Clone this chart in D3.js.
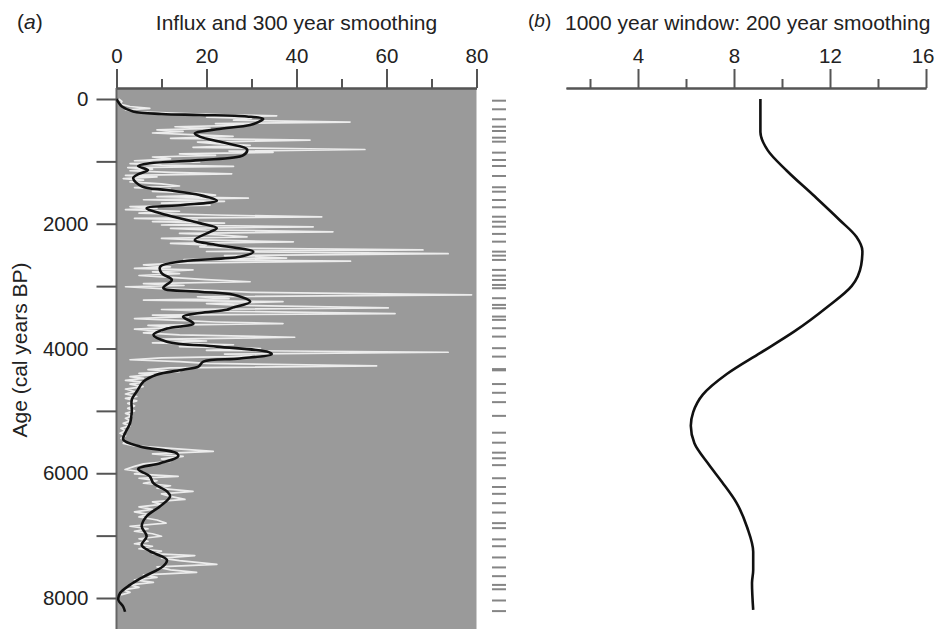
<!DOCTYPE html>
<html>
<head>
<meta charset="utf-8">
<script src="https://cdn.jsdelivr.net/npm/d3@7"></script>
<style>
  html, body { margin: 0; padding: 0; background: #fff; }
  svg { display: block; font-family: "Liberation Sans", Arial, sans-serif; }
</style>
</head>
<body>
<svg id="chart" width="936" height="629"></svg>
<script>
// ---- Data -------------------------------------------------------------
// Raw influx profile: [age (cal years BP), influx]
const influxRaw = [
  [0,0.5],[40,1.2],[80,0.8],[120,3],[150,7.4],[175,2],[200,4],[230,14],[255,24],[270,35.6],
  [290,20],[310,30],[340,26],[370,51.9],[395,22],[420,30],[445,13],[470,20.8],[495,9],[520,14.8],
  [545,8],[575,18],[600,25.9],[630,12],[660,43],[690,18],[715,22],[745,29.7],[775,17],[810,55.2],
  [835,25],[855,34.8],[880,14],[905,22],[930,8],[960,12],[990,4],[1010,18.5],[1035,3],[1060,10],
  [1080,26],[1100,2.5],[1125,8],[1150,3],[1175,12],[1200,25.6],[1225,2],[1250,9],[1275,1.5],[1300,6],
  [1330,3],[1360,10],[1395,14],[1420,4],[1450,12],[1480,8],[1510,18],[1540,22],[1565,9],[1590,29.3],
  [1615,6],[1640,24],[1670,10],[1700,20.8],[1725,3],[1750,9],[1775,2],[1800,14],[1830,5],[1860,22],
  [1890,45.6],[1915,4],[1940,18],[1965,8],[1990,24],[2020,10],[2050,43.7],[2075,12],[2100,20],[2130,48.1],
  [2155,14],[2180,23],[2210,29],[2235,10],[2260,18],[2290,39.3],[2315,12],[2340,20],[2370,18.5],[2395,30],
  [2420,68.1],[2445,20],[2480,73.7],[2510,24],[2550,37.8],[2575,15],[2600,52],[2630,13.6],[2660,6],[2690,12],
  [2715,4],[2740,17],[2770,8],[2800,14],[2830,5],[2860,12],[2895,20],[2930,29.7],[2960,6],[2990,15],
  [3010,2],[3040,10],[3070,22],[3100,30],[3140,78.9],[3170,18],[3200,25],[3225,6],[3250,37],[3280,20],
  [3310,28],[3350,60.4],[3375,10],[3400,20],[3440,61.9],[3465,8],[3490,16],[3520,4],[3550,14],[3575,22],
  [3600,37],[3630,7],[3660,14],[3690,4],[3720,10],[3750,6],[3780,14],[3820,39.6],[3850,10],[3880,20],
  [3910,8],[3940,26],[3970,14],[4000,32],[4030,20],[4060,73.7],[4090,24],[4120,32],[4150,10],[4180,3],
  [4210,14],[4240,20],[4280,57.8],[4310,12],[4340,7],[4370,14],[4400,5],[4420,8.2],[4450,3],[4480,6],
  [4510,2],[4540,6],[4570,3],[4610,5.9],[4650,2],[4690,4],[4730,2],[4770,4.5],[4800,2],[4840,4.5],
  [4880,2.5],[4920,4],[4960,2.5],[5000,4],[5040,2],[5080,3.5],[5120,2],[5160,3],[5200,1.5],[5240,3],
  [5280,1],[5320,2],[5360,0.8],[5400,2],[5440,1],[5480,2],[5520,1.5],[5560,4],[5600,12],[5650,21.5],
  [5690,8],[5730,14.8],[5770,10],[5810,12],[5850,6],[5890,4],[5940,1.9],[5980,6],[6010,4],[6050,13.7],
  [6080,5],[6120,9],[6160,6],[6200,12],[6240,9],[6290,17],[6330,10],[6370,12],[6420,15.2],[6460,8],
  [6500,10],[6540,5],[6580,8],[6620,4],[6660,7],[6700,5],[6750,9],[6800,11],[6850,3],[6890,7],
  [6930,4],[6970,8],[7010,10],[7050,5],[7090,7],[7130,4],[7170,8],[7210,5],[7250,10],[7290,8],
  [7320,17.4],[7360,10],[7400,14],[7460,22.3],[7500,9],[7550,12],[7590,17.8],[7630,6],[7670,9],[7710,4],
  [7750,8.2],[7790,3],[7830,5],[7870,1.5],[7910,3],[7950,1]
];

// 300-year smoothing of the influx: [age, influx]
const influxSmooth = [
  [0,0],[60,0.5],[120,1.2],[200,3.7],[240,10],[256,18.5],[280,29],[320,32.6],[370,31.5],[416,29.7],
  [486,22.3],[550,17.4],[604,18.5],[710,24.5],[806,29],[900,28.2],[980,18.5],[1030,7.4],[1075,4.8],[1140,7],
  [1200,5],[1270,3.7],[1400,5.6],[1460,11.2],[1540,18.5],[1630,22.3],[1700,14.8],[1750,6.7],[1860,11.2],[1990,18.5],
  [2070,22.3],[2130,20.8],[2260,17.4],[2340,22.3],[2450,30.4],[2530,27.4],[2600,14.8],[2690,9.7],[2790,10],[2900,12.3],
  [3030,10.4],[3090,18.5],[3140,26],[3250,29.7],[3350,25.6],[3380,24.5],[3430,18.5],[3490,14.8],[3600,17.1],[3680,11.2],
  [3780,8.2],[3890,11.2],[3970,22.3],[4050,33.4],[4090,34.5],[4160,27.4],[4210,19.3],[4290,18.2],[4340,14.8],[4420,8.9],
  [4530,6],[4690,4.5],[4820,3.4],[5010,3.4],[5200,3.0],[5360,1.9],[5460,1.5],[5570,5.2],[5680,13.4],[5730,13.7],
  [5840,9.7],[5930,4.8],[6050,7.4],[6160,8.2],[6290,11.2],[6370,11.9],[6530,9.7],[6690,6.7],[6850,5.6],[7010,6.7],
  [7150,5.6],[7250,7.4],[7390,11.2],[7490,10.4],[7660,6],[7790,3],[7920,0.8],[8030,0.4],[8140,1.5],[8220,1.9]
];

// Ages of the dated levels shown beside panel (a)
const datedAges = [
  27,165,325,444,513,620,684,860,978,1074,1234,1415,1486,1619,1736,1887,1967,2047,2163,2287,
  2447,2511,2580,2740,2831,2901,2981,3034,3194,3301,3355,3488,3541,3675,3809,3995,4130,4330,4350,4570,
  4710,4860,5080,5350,5510,5670,5760,5870,6080,6220,6330,6480,6630,6800,6880,7060,7170,7350,7510,7650,
  7790,7860,8040,8210
];

// 1000-year window frequency with 200-year smoothing: [age, value]
const windowSmooth = [
  [0,9.1],[530,9.1],[820,9.4],[1150,10.2],[1540,11.3],[1940,12.4],[2210,13.1],[2440,13.35],[2660,13.3],[3000,12.9],
  [3330,11.9],[3730,10.5],[4070,9.1],[4410,7.7],[4740,6.7],[5020,6.3],[5240,6.2],[5520,6.35],[5860,6.95],[6140,7.5],
  [6470,8.1],[6870,8.55],[7260,8.8],[7550,8.8],[7760,8.75],[8190,8.8]
];

// Axis ticks
const ageTicks = [0, 2000, 4000, 6000, 8000];
const ageMinorTicks = [1000, 3000, 5000, 7000];
const influxTicks = [0, 20, 40, 60, 80];
const influxMinorTicks = [10, 30, 50, 70];
const windowTicks = [4, 8, 12, 16];
const windowMinorTicks = [2, 6, 10, 14];

// ---- Layout -----------------------------------------------------------
const svg = d3.select("#chart");
const axisY = 88;           // y of both top axes
const panelBottom = 629;
const axisColor = "#555";
const textColor = "#222";
const tickFont = "20.5px";

const y = d3.scaleLinear().domain([0, 8000]).range([99, 598]);
const xA = d3.scaleLinear().domain([0, 80]).range([116.5, 476.5]);
const xB = d3.scaleLinear().domain([1, 16]).range([566, 926]);

// ---- Panel (a) ----------------------------------------------------------
svg.append("rect")
  .attr("x", xA(0)).attr("y", axisY)
  .attr("width", xA(80) - xA(0)).attr("height", panelBottom - axisY)
  .attr("fill", "#9a9a9a");

// left border of the panel
svg.append("line")
  .attr("x1", xA(0)).attr("x2", xA(0))
  .attr("y1", axisY).attr("y2", panelBottom)
  .attr("stroke", "#666").attr("stroke-width", 2);

const profile = (xs) => d3.line().x(d => xs(d[1])).y(d => y(d[0]));

// raw influx
svg.append("path")
  .datum(influxRaw)
  .attr("d", profile(xA))
  .attr("fill", "none")
  .attr("stroke", "#f0f0f0")
  .attr("stroke-width", 1.7)
  .attr("stroke-linejoin", "round")
  .attr("opacity", 0.95);

// smoothed influx
svg.append("path")
  .datum(influxSmooth)
  .attr("d", profile(xA).curve(d3.curveCatmullRom.alpha(0.5)))
  .attr("fill", "none")
  .attr("stroke", "#111")
  .attr("stroke-width", 2.6)
  .attr("stroke-linejoin", "round");

// dated levels
svg.append("g")
  .selectAll("line")
  .data(datedAges)
  .join("line")
  .attr("x1", 492).attr("x2", 506)
  .attr("y1", d => y(d)).attr("y2", d => y(d))
  .attr("stroke", "#858585")
  .attr("stroke-width", 2);

function styleAxis(g) {
  g.select(".domain").attr("stroke", axisColor).attr("stroke-width", 2);
  g.selectAll(".tick line").attr("stroke", axisColor).attr("stroke-width", 2);
  g.selectAll(".tick text")
    .attr("fill", textColor)
    .style("font-size", tickFont)
    .style("font-family", "'Liberation Sans', Arial, sans-serif");
}

// top axis (a)
svg.append("g")
  .attr("transform", `translate(0,${axisY})`)
  .call(d3.axisTop(xA).tickValues(influxMinorTicks).tickSize(9).tickSizeOuter(0).tickFormat(""))
  .call(styleAxis);
svg.append("g")
  .attr("transform", `translate(0,${axisY})`)
  .call(d3.axisTop(xA).tickValues(influxTicks).tickSize(19).tickSizeOuter(0).tickPadding(6).tickFormat(d3.format("d")))
  .call(styleAxis);

// left age axis
svg.append("g")
  .attr("transform", `translate(${xA(0)},0)`)
  .call(d3.axisLeft(y).tickValues(ageMinorTicks).tickSize(20).tickSizeOuter(0).tickFormat(""))
  .call(styleAxis)
  .call(g => g.select(".domain").remove());
svg.append("g")
  .attr("transform", `translate(${xA(0)},0)`)
  .call(d3.axisLeft(y).tickValues(ageTicks).tickSize(20).tickSizeOuter(0).tickPadding(8).tickFormat(d3.format("d")))
  .call(styleAxis)
  .call(g => g.select(".domain").remove());

svg.append("text")
  .attr("transform", "translate(27,350) rotate(-90)")
  .attr("text-anchor", "middle")
  .attr("fill", textColor)
  .style("font-size", "21px")
  .text("Age (cal years BP)");

const labelA = svg.append("text")
  .attr("x", 17).attr("y", 29)
  .attr("fill", textColor)
  .style("font-size", "21px");
labelA.append("tspan").text("(");
labelA.append("tspan").style("font-style", "italic").text("a");
labelA.append("tspan").text(")");

svg.append("text")
  .attr("x", (xA(0) + xA(80)) / 2).attr("y", 30)
  .attr("text-anchor", "middle")
  .attr("fill", textColor)
  .style("font-size", "21px")
  .text("Influx and 300 year smoothing");

// ---- Panel (b) ----------------------------------------------------------
svg.append("g")
  .attr("transform", `translate(0,${axisY})`)
  .call(d3.axisTop(xB).tickValues(windowMinorTicks).tickSize(9).tickSizeOuter(0).tickFormat(""))
  .call(styleAxis);
svg.append("g")
  .attr("transform", `translate(0,${axisY})`)
  .call(d3.axisTop(xB).tickValues(windowTicks).tickSize(19).tickSizeOuter(0).tickPadding(6).tickFormat(d3.format("d")))
  .call(styleAxis)
  // keep the last label inside the page edge
  .call(g => g.selectAll(".tick text").filter(d => d === 16).attr("text-anchor", "end").attr("x", 8));

svg.append("path")
  .datum(windowSmooth)
  .attr("d", profile(xB).curve(d3.curveMonotoneY))
  .attr("fill", "none")
  .attr("stroke", "#111")
  .attr("stroke-width", 2.6);

const labelB = svg.append("text")
  .attr("x", 528).attr("y", 27)
  .attr("fill", textColor)
  .style("font-size", "19px");
labelB.append("tspan").text("(");
labelB.append("tspan").style("font-style", "italic").text("b");
labelB.append("tspan").text(")");

svg.append("text")
  .attr("x", 565).attr("y", 30)
  .attr("fill", textColor)
  .style("font-size", "21px")
  .text("1000 year window: 200 year smoothing");
</script>
</body>
</html>
